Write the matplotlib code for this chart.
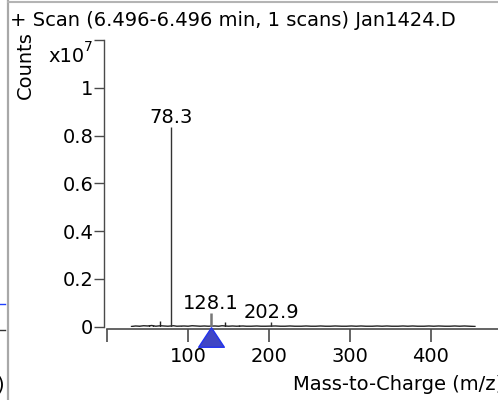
import numpy as np
import matplotlib.pyplot as plt
from matplotlib.lines import Line2D
from matplotlib.path import Path

W, H = 498, 400

title = "+ Scan (6.496-6.496 min, 1 scans) Jan1424.D"
xlabel = "Mass-to-Charge (m/z)"
ylabel = "Counts"

# labelled peaks, counts in units of 1e7
peak_mz = [78.3, 202.9]
peak_h = [0.837, 0.020]
precursor_mz = 128.1
precursor_h = 0.057

# small unlabelled peaks
minor_mz = [39.0, 51.0, 57.0, 65.0, 91.0, 146.0, 163.0]
minor_h = [0.004, 0.006, 0.008, 0.025, 0.005, 0.018, 0.006]

# low-level baseline of the scan
noise_mz = [30, 35, 40, 45, 50, 55, 60, 66, 70, 75, 82, 86, 95, 100, 105, 110,
            115, 120, 125, 133, 138, 142, 150, 155, 160, 168, 172, 178, 185, 190,
            196, 208, 214, 220, 226, 232, 240, 246, 252, 258, 264, 270, 276, 282,
            290, 296, 302, 308, 314, 320, 328, 334, 340, 346, 352, 360, 366, 372,
            378, 384, 392, 398, 404, 410, 418, 424, 430, 436, 442, 448, 455]
noise_h = [0.001, 0.003, 0.002, 0.004, 0.003, 0.005, 0.002, 0.004, 0.003, 0.002,
           0.004, 0.002, 0.003, 0.002, 0.004, 0.003, 0.002, 0.003, 0.002, 0.003,
           0.002, 0.004, 0.002, 0.003, 0.002, 0.003, 0.002, 0.002, 0.003, 0.002,
           0.002, 0.003, 0.002, 0.002, 0.003, 0.002, 0.002, 0.003, 0.002, 0.002,
           0.003, 0.002, 0.002, 0.003, 0.002, 0.002, 0.003, 0.002, 0.003, 0.002,
           0.002, 0.003, 0.002, 0.003, 0.002, 0.002, 0.003, 0.002, 0.003, 0.002,
           0.002, 0.003, 0.002, 0.003, 0.002, 0.002, 0.003, 0.002, 0.003, 0.002,
           0.001]

xticks = [0, 100, 200, 300, 400]
xtick_labels = ["", "100", "200", "300", "400"]
yticks = [0, 0.2, 0.4, 0.6, 0.8, 1.0, 1.2]
ytick_labels = ["0", "0.2", "0.4", "0.6", "0.8", "1", ""]

plt.rcParams['font.family'] = ['DejaVu Sans']
FS = 14
axis_col = '#4a4a4a'


def px(x, y):
    return x / W, 1 - y / H


fig = plt.figure(figsize=(W / 100, H / 100), dpi=100)
x0, y0 = px(107.3, 326.7)
x1, y1 = px(107.3 + 600 * 0.808, 40)
ax = fig.add_axes([x0, y0, x1 - x0, y1 - y0])
ax.set_xlim(0, 600)
ax.set_ylim(0, 1.2)

# baseline + peaks
ax.plot(noise_mz, noise_h, color='#222222', lw=1.0)
ax.vlines(minor_mz, 0, minor_h, color='#222222', lw=1.0)
ax.vlines(peak_mz, 0, peak_h, color='#333333', lw=1.0)
ax.vlines([precursor_mz], 0, [precursor_h], color='#777777', lw=1.8)

for m, h in zip(peak_mz + [precursor_mz], peak_h + [precursor_h]):
    ax.text(m, h, "%.1f" % m, ha='center', va='bottom', fontsize=FS)

# precursor marker
tri = Path([(0, 0.38), (-0.5, -0.38), (0.5, -0.38), (0, 0.38)],
           [Path.MOVETO, Path.LINETO, Path.LINETO, Path.CLOSEPOLY])
ax.plot([precursor_mz], [-0.044], marker=tri, markersize=18.5,
        markerfacecolor='#4046c4', markeredgecolor='#2233ee', mew=1.0,
        clip_on=False, zorder=5)

for s in ['top', 'right']:
    ax.spines[s].set_visible(False)
ax.spines['left'].set_position(('outward', 2.2))
ax.spines['bottom'].set_position(('outward', 1.7))
ax.spines['left'].set_bounds(0, 1.2)
ax.spines['left'].set_color(axis_col)
ax.spines['bottom'].set_color(axis_col)
ax.spines['left'].set_linewidth(1.0)
ax.spines['bottom'].set_linewidth(1.2)

ax.set_xticks(xticks)
ax.set_xticklabels(xtick_labels)
ax.set_yticks(yticks)
ax.set_yticklabels(ytick_labels)
ax.tick_params(axis='y', direction='out', length=7.2, width=1.0, pad=0.8,
               color=axis_col, labelsize=FS)
ax.tick_params(axis='x', direction='out', length=9.4, width=1.2, pad=3.5,
               color=axis_col, labelsize=FS)
ax.patch.set_alpha(0)

# texts
fig.text(*px(10, 20), title, ha='left', va='center', fontsize=FS)
fig.text(*px(25.5, 65), ylabel, ha='center', va='center', rotation=90, fontsize=FS)
fig.text(*px(48, 56), "x10", ha='left', va='center', fontsize=FS)
fig.text(*px(84, 47), "7", ha='left', va='center', fontsize=10)
fig.text(*px(293, 385), xlabel, ha='left', va='center', fontsize=FS)

# window edges of the neighbouring panel
fig.add_artist(Line2D([8.3 / W] * 2, [0, 1], transform=fig.transFigure,
                      color='#a8a8a8', lw=1.6))
fig.add_artist(Line2D([8.3 / W, 1], [1 - 1.5 / H] * 2, transform=fig.transFigure,
                      color='#b4b4b4', lw=1.5))
fig.add_artist(Line2D([0, 5 / W], [1 - 304 / H] * 2, transform=fig.transFigure,
                      color='#2040ff', lw=1.0))
fig.add_artist(Line2D([0, 5 / W], [1 - 330 / H] * 2, transform=fig.transFigure,
                      color='#333333', lw=1.0))
fig.text(*px(-4, 385), ")", ha='left', va='center', fontsize=FS)

fig.savefig("out.png", dpi=100)
